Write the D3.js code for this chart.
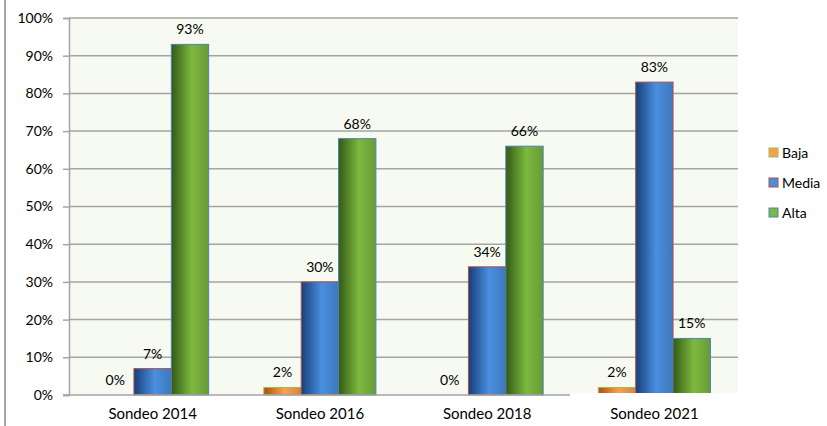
<!DOCTYPE html>
<html>
<head>
<meta charset="utf-8">
<script src="https://cdn.jsdelivr.net/npm/d3@7"></script>
<style>
  html, body { margin: 0; padding: 0; background: #fff; }
  svg { display: block; font-family: "Lato", "Liberation Sans", sans-serif; }
</style>
</head>
<body>
<svg id="chart" width="827" height="426"></svg>
<script>
const categories = ["Sondeo 2014", "Sondeo 2016", "Sondeo 2018", "Sondeo 2021"];
const seriesNames = ["Baja", "Media", "Alta"];
const baja  = [0, 2, 0, 2];
const media = [7, 30, 34, 83];
const alta  = [93, 68, 66, 15];
const yTicks = [0, 10, 20, 30, 40, 50, 60, 70, 80, 90, 100];

const seriesValues = [baja, media, alta];
const palette = {
  Baja:  { dark: "#a8520e", light: "#f9a04e", stroke: "#9bbb59" },
  Media: { dark: "#173f78", light: "#4a8fe0", stroke: "#b0504d" },
  Alta:  { dark: "#335a14", light: "#7db93f", stroke: "#4f81bd" }
};

const svg = d3.select("#chart");
const L = 69, R = 738, T = 18, B = 395;

const defs = svg.append("defs");
seriesNames.forEach(s => {
  const g = defs.append("linearGradient").attr("id", "grad-" + s)
    .attr("x1", "0%").attr("x2", "100%").attr("y1", "0%").attr("y2", "0%");
  g.append("stop").attr("offset", "0%").attr("stop-color", palette[s].dark);
  g.append("stop").attr("offset", "55%").attr("stop-color", palette[s].light);
  g.append("stop").attr("offset", "100%").attr("stop-color", d3.color(palette[s].light).darker(0.5));
});

// outer left border
svg.append("line").attr("x1", 5).attr("x2", 5).attr("y1", 0).attr("y2", 426)
  .attr("stroke", "#a6a6a6").attr("stroke-width", 2);

// plot background
svg.append("rect").attr("x", L).attr("y", T).attr("width", R - L).attr("height", B - T)
  .attr("fill", "#f7faf0");

const x0 = d3.scaleBand().domain(categories).range([L, R]).paddingInner(0.33).paddingOuter(0.165);
const x1 = d3.scaleBand().domain(seriesNames).range([0, x0.bandwidth()]);
const y = d3.scaleLinear().domain([0, 100]).range([B, T]);

// gridlines
svg.append("g").selectAll("line").data(yTicks.filter(t => t > 0)).join("line")
  .attr("x1", L).attr("x2", R)
  .attr("y1", d => y(d)).attr("y2", d => y(d))
  .attr("stroke", "#a5a5a5").attr("stroke-width", 1.5);

// y axis
const yAxis = d3.axisLeft(y).tickValues(yTicks).tickFormat(d => d + "%").tickSize(6).tickPadding(10);
const ya = svg.append("g").attr("transform", `translate(${L},0)`).call(yAxis);
ya.select(".domain").attr("stroke", "#a5a5a5").attr("stroke-width", 1.5);
ya.selectAll(".tick line").attr("stroke", "#a5a5a5").attr("stroke-width", 1.5);
ya.selectAll(".tick text").attr("fill", "#000").attr("font-size", 14)
  .attr("font-family", "Lato, 'Liberation Sans', sans-serif");

// bars
const groups = svg.append("g").selectAll("g").data(categories).join("g")
  .attr("transform", d => `translate(${x0(d)},0)`);

groups.selectAll("rect").data((c, i) => seriesNames.map((s, j) => ({ s, v: seriesValues[j][i] })))
  .join("rect")
  .attr("x", d => x1(d.s))
  .attr("y", d => y(d.v))
  .attr("width", x1.bandwidth())
  .attr("height", d => B - y(d.v))
  .attr("fill", d => `url(#grad-${d.s})`)
  .attr("stroke", d => d.v > 0 ? palette[d.s].stroke : "none")
  .attr("stroke-width", 1);

// data labels
groups.selectAll("text").data((c, i) => seriesNames.map((s, j) => ({ s, v: seriesValues[j][i] })))
  .join("text")
  .attr("x", d => x1(d.s) + x1.bandwidth() / 2)
  .attr("y", d => y(d.v) - 10)
  .attr("text-anchor", "middle")
  .attr("font-size", 14)
  .attr("fill", "#000")
  .text(d => d.v + "%");

// x axis line (partial as in reference)
svg.append("rect").attr("x", 570).attr("y", B - 2).attr("width", R - 570 + 2).attr("height", 5).attr("fill", "#fff");
svg.append("line").attr("x1", L - 6).attr("x2", 570).attr("y1", B).attr("y2", B)
  .attr("stroke", "#a5a5a5").attr("stroke-width", 1.5);

// x labels
svg.append("g").selectAll("text").data(categories).join("text")
  .attr("x", d => x0(d) + x0.bandwidth() / 2)
  .attr("y", 419)
  .attr("text-anchor", "middle")
  .attr("font-size", 15)
  .attr("fill", "#000")
  .text(d => d);

// legend
const leg = svg.append("g").selectAll("g").data(seriesNames).join("g")
  .attr("transform", (d, i) => `translate(769,${148 + i * 30})`);
leg.append("rect").attr("x", 0).attr("y", 0).attr("width", 9).attr("height", 9)
  .attr("fill", d => palette[d].light).attr("stroke", d => palette[d].stroke).attr("stroke-width", 1);
leg.append("text").attr("x", 13).attr("y", 9.5).attr("font-size", 14).attr("fill", "#000").text(d => d);
</script>
</body>
</html>
